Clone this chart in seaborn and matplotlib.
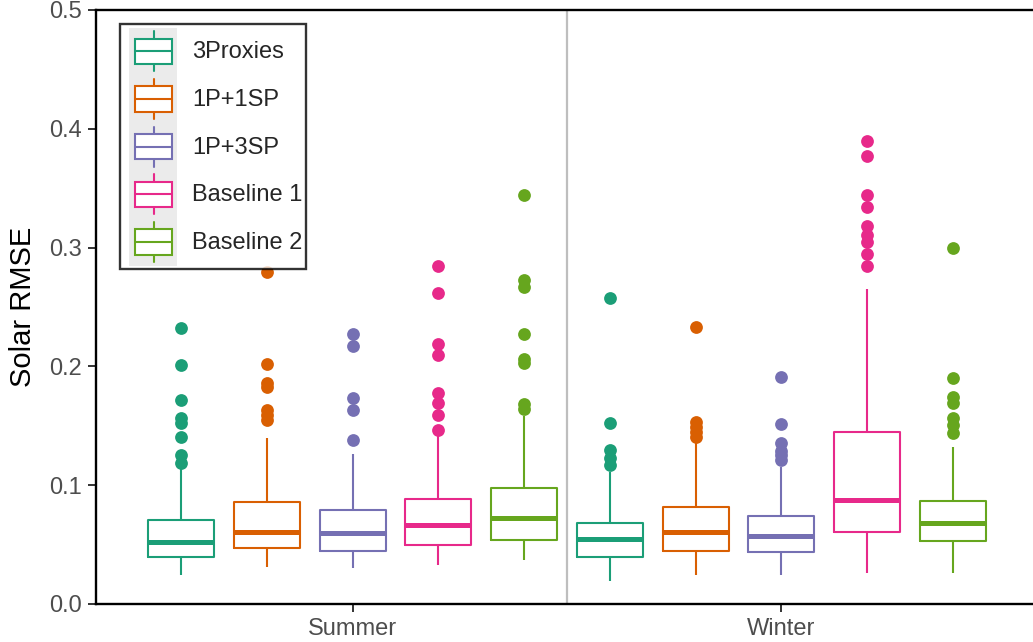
import numpy as np
import pandas as pd
import matplotlib
matplotlib.use("Agg")
import matplotlib.pyplot as plt
import seaborn as sns
from matplotlib.patches import Rectangle, Patch
from matplotlib.lines import Line2D
from matplotlib.legend_handler import HandlerBase

# ---------------- data ----------------
seasons = ["Summer", "Winter"]
methods = ["3Proxies", "1P+1SP", "1P+3SP", "Baseline 1", "Baseline 2"]
palette = ["#1B9E77", "#D95F02", "#7570B3", "#E7298A", "#66A61E"]

# box statistics, order of `methods`
summer_whislo = [0.0244, 0.0314, 0.0306, 0.0328, 0.0370]
summer_q1     = [0.0393, 0.0469, 0.0449, 0.0497, 0.0539]
summer_median = [0.0525, 0.0603, 0.0595, 0.0662, 0.0721]
summer_q3     = [0.0707, 0.0861, 0.0791, 0.0881, 0.0974]
summer_whishi = [0.1156, 0.1394, 0.1263, 0.1420, 0.1580]

winter_whislo = [0.0194, 0.0244, 0.0244, 0.0258, 0.0258]
winter_q1     = [0.0393, 0.0449, 0.0435, 0.0609, 0.0533]
winter_median = [0.0544, 0.0603, 0.0572, 0.0875, 0.0685]
winter_q3     = [0.0685, 0.0819, 0.0741, 0.1450, 0.0870]
winter_whishi = [0.1114, 0.1366, 0.1156, 0.2652, 0.1324]

summer_outliers = [
    [0.1190, 0.1254, 0.1409, 0.1526, 0.1563, 0.1717, 0.2012, 0.2323],
    [0.1549, 0.1590, 0.1633, 0.1830, 0.1858, 0.2017, 0.2797],
    [0.1380, 0.1633, 0.1731, 0.2175, 0.2270],
    [0.1465, 0.1590, 0.1695, 0.1773, 0.2096, 0.2189, 0.2615, 0.2848],
    [0.1645, 0.1685, 0.2026, 0.2060, 0.2270, 0.2666, 0.2727, 0.3443],
]
winter_outliers = [
    [0.1170, 0.1226, 0.1296, 0.1521, 0.2579],
    [0.1409, 0.1450, 0.1493, 0.1535, 0.2329],
    [0.1215, 0.1254, 0.1290, 0.1358, 0.1512, 0.1908],
    [0.2845, 0.2946, 0.3050, 0.3106, 0.3182, 0.3345, 0.3443, 0.3771, 0.3900],
    [0.1436, 0.1507, 0.1563, 0.1690, 0.1745, 0.1900, 0.2994],
]

y_ticks = [0.0, 0.1, 0.2, 0.3, 0.4, 0.5]
y_label = "Solar RMSE"


def sample_from_stats(wlo, q1, med, q3, whi, outs):
    """Value set whose quartiles / whiskers / fliers equal the given statistics."""
    j = len(outs) + 1
    return [wlo] + [q1] * j + [med] * j + [q3] * j + [whi] + sorted(outs)


rows = []
stat_sets = {
    "Summer": (summer_whislo, summer_q1, summer_median, summer_q3, summer_whishi, summer_outliers),
    "Winter": (winter_whislo, winter_q1, winter_median, winter_q3, winter_whishi, winter_outliers),
}
for season in seasons:
    wl, q1, md, q3, wh, ol = stat_sets[season]
    for i, m in enumerate(methods):
        for v in sample_from_stats(wl[i], q1[i], md[i], q3[i], wh[i], ol[i]):
            rows.append({"Season": season, "Method": m, "RMSE": v})
df = pd.DataFrame(rows)

# ---------------- style ----------------
sns.set_style("white")
plt.rcParams["font.family"] = ["Liberation Sans", "DejaVu Sans"]

W, H = 1033, 642
fig = plt.figure(figsize=(W / 100, H / 100), dpi=100)
left_px, right_px, top_px, bottom_px = 95.6, 1038.4, 10, 604
ax = fig.add_axes([left_px / W, (H - bottom_px) / H,
                   (right_px - left_px) / W, (bottom_px - top_px) / H])

ax.axvline(0.5, color="#BEBEBE", lw=1.6, zorder=0.5)

sns.boxplot(data=df, x="Season", y="RMSE", hue="Method",
            order=seasons, hue_order=methods, palette=palette,
            saturation=1, fill=False, width=1.0, gap=0.23,
            linewidth=1.5, fliersize=9.2, showcaps=False,
            legend=False, ax=ax)

median_lw = 3.6
for c in ax.containers:
    try:
        for med in c.medians:
            med.set_linewidth(median_lw)
            med.set_solid_capstyle("butt")
        for fl in c.fliers:
            fl.set_marker("o")
            fl.set_markerfacecolor(fl.get_markeredgecolor())
            fl.set_markeredgewidth(0)
            fl.set_markersize(9.2)
    except AttributeError:
        pass

ax.set_xlim(-0.6, 1.6)
ax.set_ylim(0, 0.5)
ax.set_yticks(y_ticks)
ax.set_yticklabels([f"{v:.1f}" for v in y_ticks])
ax.set_xlabel("")
ax.set_ylabel(y_label, fontsize=21, color="black", labelpad=9)

ax.tick_params(axis="both", which="major", labelsize=17, labelcolor="#4D4D4D",
               color="#333333", length=5.8, width=1.4, direction="out",
               left=True, bottom=True, pad=4)
for sp in ax.spines.values():
    sp.set_visible(True)
    sp.set_color("black")
    sp.set_linewidth(1.7)
    sp.set_zorder(3)


# ---------------- ggplot-like legend keys ----------------
class BoxKeyHandler(HandlerBase):
    def create_artists(self, legend, orig_handle, xdescent, ydescent,
                       width, height, fontsize, trans):
        col = orig_handle.get_edgecolor()
        x0, y0 = -xdescent, -ydescent
        gx0 = x0 + 0.103 * width
        gw = 0.897 * width
        bg = Rectangle((gx0, y0), gw, height, facecolor="#EBEBEB",
                       edgecolor="none", transform=trans)
        cy = y0 + height / 2
        bx0, bx1 = gx0 + 0.125 * gw, gx0 + 0.896 * gw
        cx = (bx0 + bx1) / 2
        bh = 0.265 * height
        box = Rectangle((bx0, cy - bh), bx1 - bx0, 2 * bh, facecolor="white",
                        edgecolor=col, lw=1.5, transform=trans)
        med = Line2D([bx0, bx1], [cy, cy], color=col, lw=1.5, transform=trans)
        wu = Line2D([cx, cx], [cy + bh, cy + 0.42 * height], color=col, lw=1.5,
                    transform=trans)
        wd = Line2D([cx, cx], [cy - bh, cy - 0.42 * height], color=col, lw=1.5,
                    transform=trans)
        return [bg, wu, wd, box, med]


handles = [Patch(edgecolor=c, facecolor="white") for c in palette]
leg = ax.legend(handles, methods, handler_map={Patch: BoxKeyHandler()},
                loc="upper left", bbox_to_anchor=(120 / W, 1 - 24 / H),
                bbox_transform=fig.transFigure, borderaxespad=0,
                fontsize=17, handlelength=2.27, handleheight=2.73,
                labelspacing=0.0, handletextpad=0.64, borderpad=0.15,
                frameon=True, fancybox=False)
leg.get_frame().set_edgecolor("black")
leg.get_frame().set_linewidth(1.7)
leg.set_zorder(10)

fig.savefig("out.png", dpi=100)
